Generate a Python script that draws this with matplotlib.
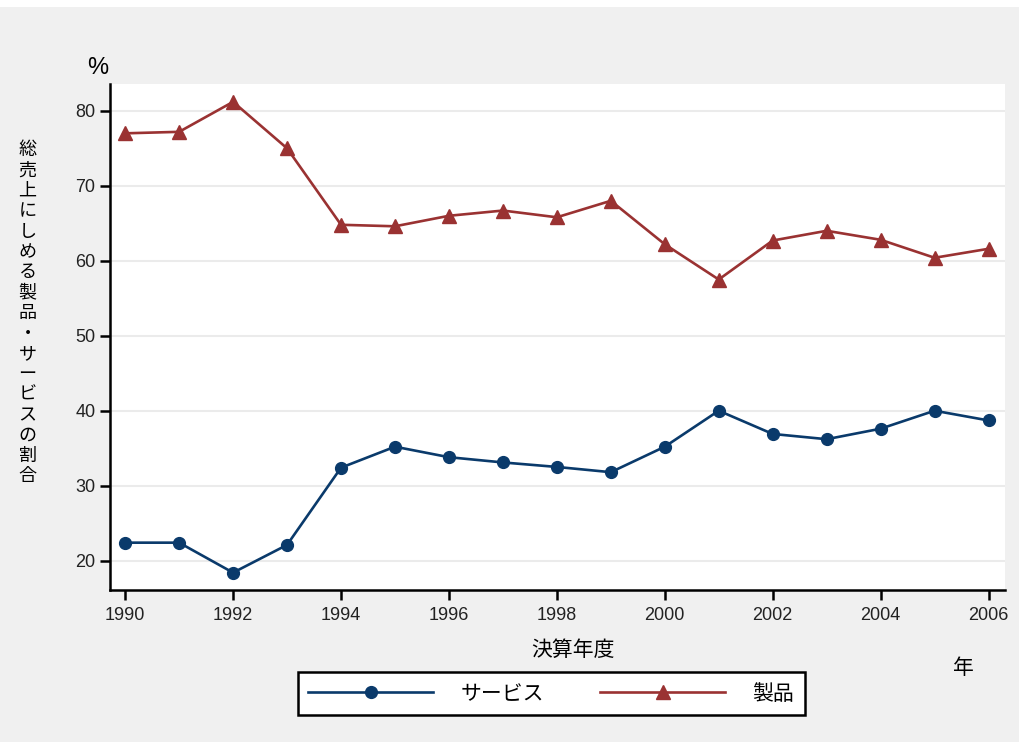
import matplotlib.pyplot as plt
from matplotlib.patches import Rectangle

plt.rcParams['font.family'] = ['Liberation Sans', 'Noto Sans CJK JP', 'DejaVu Sans']

years = list(range(1990, 2007))
services = [22.4, 22.4, 18.4, 22.1, 32.4, 35.2, 33.8, 33.1, 32.5, 31.8,
            35.2, 40.0, 36.9, 36.2, 37.6, 40.0, 38.7]
products = [77.0, 77.2, 81.2, 75.0, 64.8, 64.6, 66.0, 66.7, 65.8, 68.0,
            62.2, 57.5, 62.7, 64.0, 62.8, 60.4, 61.6]
xticks = list(range(1990, 2007, 2))
yticks = [20, 30, 40, 50, 60, 70, 80]

ylabel = '総売上にしめる製品・サービスの割合'
xlabel = '決算年度'
series_names = ['サービス', '製品']

blue = '#0a3a6b'
red = '#9a3232'
jp = ['Noto Sans CJK JP', 'DejaVu Sans']

fig = plt.figure(figsize=(10.19, 7.42), dpi=100)
fig.patch.set_facecolor('#f0f0f0')
# thin white strip along the top like the reference frame
fig.patches.append(Rectangle((0, 0.99), 1, 0.01, transform=fig.transFigure,
                             facecolor='white', edgecolor='none', zorder=-1))

ax = fig.add_axes([0.108, 0.205, 0.878, 0.682])
ax.set_facecolor('white')

l1, = ax.plot(years, services, color=blue, lw=1.9, marker='o', ms=8.5, label=series_names[0])
l2, = ax.plot(years, products, color=red, lw=1.9, marker='^', ms=10.5, label=series_names[1])

ax.set_xlim(1989.72, 2006.3)
ax.set_ylim(16.1, 83.6)
ax.set_xticks(xticks)
ax.set_yticks(yticks)
ax.grid(axis='y', color='#ebebeb', lw=1.5)
ax.set_axisbelow(True)

for s in ['top', 'right']:
    ax.spines[s].set_visible(False)
for s in ['left', 'bottom']:
    ax.spines[s].set_linewidth(1.8)
    ax.spines[s].set_color('black')

ax.tick_params(axis='both', direction='out', length=7, width=1.8, labelsize=13,
               labelcolor='#222222')
ax.tick_params(axis='x', pad=5)

# y-axis label written vertically, one character per line
fig.text(0.027, 0.578, '\n'.join(ylabel), family=jp, fontsize=13,
         ha='center', va='center', linespacing=1.17)
fig.text(0.096, 0.908, '%', fontsize=17, ha='center', va='center')
fig.text(0.562, 0.124, xlabel, family=jp, fontsize=15, ha='center', va='center')
fig.text(0.945, 0.1, '年', family=jp, fontsize=15, ha='center', va='center')

leg = fig.legend(handles=[l1, l2], loc='center', bbox_to_anchor=(0.541, 0.065),
                 ncol=2, numpoints=1, handlelength=6.0, columnspacing=2.7,
                 handletextpad=1.3, fancybox=False, framealpha=1,
                 prop={'family': jp, 'size': 15}, borderpad=0.5)
leg.get_frame().set_edgecolor('black')
leg.get_frame().set_linewidth(1.8)

plt.savefig('out.png', dpi=100, facecolor=fig.get_facecolor())
